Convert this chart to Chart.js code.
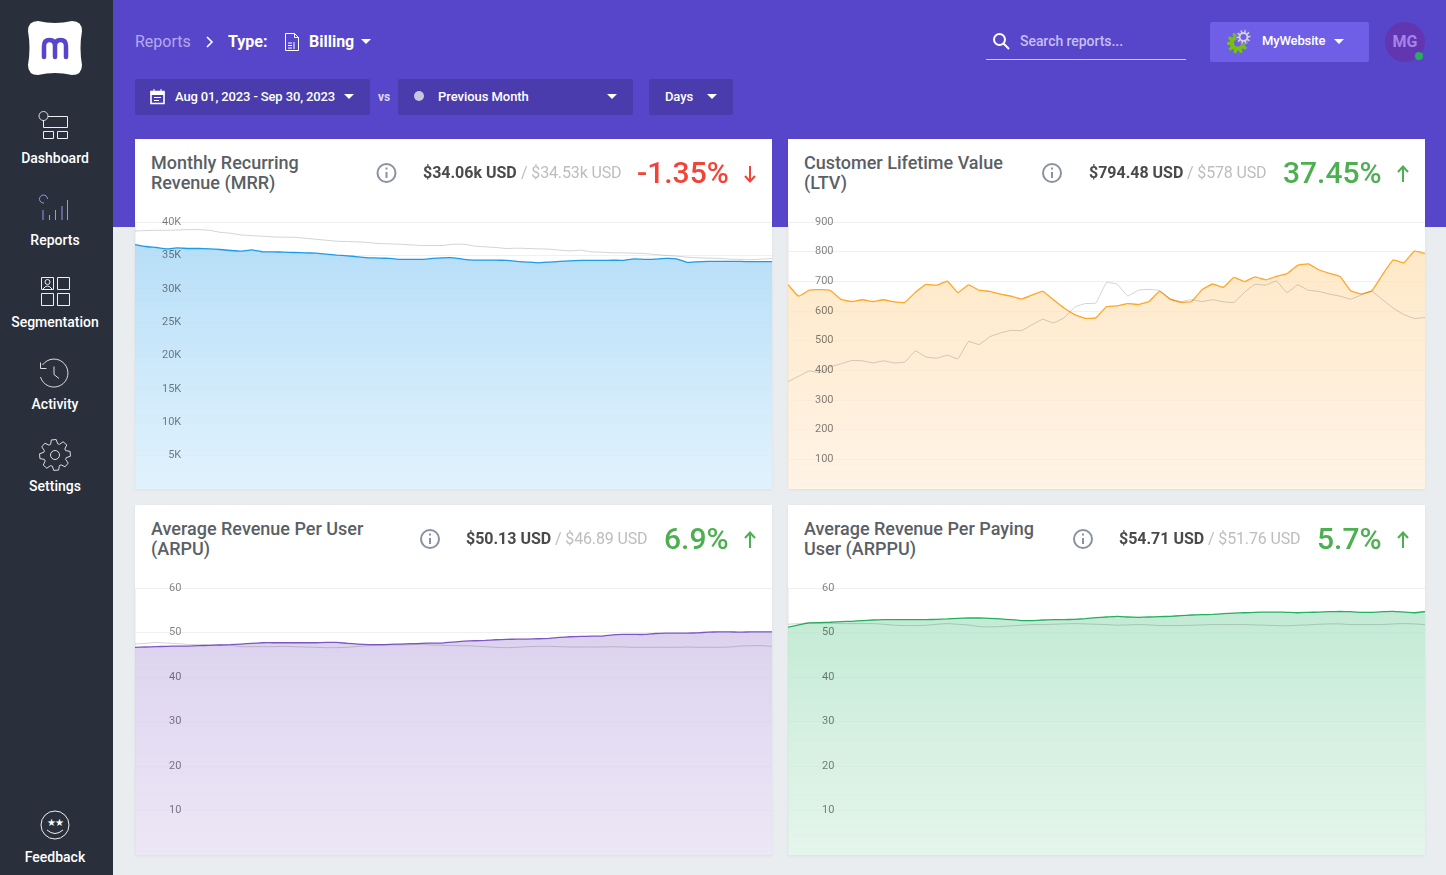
<!DOCTYPE html>
<html><head><meta charset="utf-8">
<script src="https://cdn.jsdelivr.net/npm/chart.js@4"></script>
<style>
*{box-sizing:border-box}
html,body{margin:0;padding:0;width:1446px;height:875px;overflow:hidden;background:#e9edf0;font-family:Roboto,sans-serif}
.abs,.t,canvas,svg{position:absolute}
.t{white-space:nowrap}
#side{position:absolute;left:0;top:0;width:113px;height:875px;background:#29303b}
#top{position:absolute;left:113px;top:0;width:1333px;height:227px;background:#5846ca}
.nav{position:absolute;left:0;width:110px;text-align:center;color:#fff;font-size:14px;font-weight:500;line-height:18px}
.btn{position:absolute;top:79px;height:36px;background:#4b3cad;border-radius:2px}
.lbl{color:#fff;font-size:13px;font-weight:500;line-height:18px;top:88px;letter-spacing:-.13px}
.caret{position:absolute;width:0;height:0;border-left:5px solid transparent;border-right:5px solid transparent;border-top:5px solid #fff}
.card{position:absolute;width:637px;height:350px;background:#fff;box-shadow:0 1px 3px rgba(0,0,0,.06)}
.title{color:#5a5f66;font-size:18px;font-weight:500;line-height:20px;left:151px}
.val{color:#4a4a4a;font-size:16px;font-weight:700;line-height:20px;letter-spacing:-.02px}
.prev{color:#bdbdbd;font-size:16px;line-height:20px;letter-spacing:-.14px}
.pct{font-size:30px;line-height:36px;font-weight:500}
</style></head><body>
<div id="top"></div>
<div id="side"></div>

<svg style="left:0;top:0" width="113" height="875" fill="none" stroke="#fff" stroke-width="1">
 <path d="M28 31q0-10 10-10q17 4 34 0q10 0 10 10q-3 17 0 34q0 10-10 10q-17-4-34 0q-10 0-10-10q3-17 0-34z" fill="#fff" stroke="none"/>
 <path d="M44 57V46q0-6 5.500-6t5.500 6v11M55 46q0-6 5.500-6t5.500 6v11" stroke="#5846ca" stroke-width="4.500" stroke-linecap="round"/>
 <circle cx="43.500" cy="116" r="4.500" stroke="#ddd"/>
 <path d="M48 116.500H67.500V127.500H43.500V120M43.500 131.500h10v7h-10zM57.500 131.500h10v7h-10z" stroke="#eee"/>
 <path d="M47.500 199a4 4 0 1 0-3.500 4" stroke="#9c95ee"/>
 <path d="M43 220v-10M49.500 220v-5M55.500 220v-10M62 220v-14M67.500 220v-20" stroke="#9c95ee"/>
 <path d="M41.500 277.500h12v12h-12zM57.500 277.500h12v12h-12zM41.500 293.500h12v12h-12zM57.500 293.500h12v12h-12z" stroke="#eee"/>
 <circle cx="47.500" cy="282" r="2.500" stroke="#eee"/><path d="M43 289q4.500-6 9 0" stroke="#eee"/>
 <path d="M42.500 365A14 14 0 1 1 40.500 377M40.500 362.500v6h6M54 366.500v8l5 4" stroke="#ddd"/>
 <path id="g1" stroke="#ddd"/>
 <circle cx="55" cy="455" r="4.500" stroke="#ddd"/>
 <circle cx="55" cy="825" r="14" stroke="#eee"/><path d="M47 830q8 7 16 0" stroke="#eee"/>
 <text x="46.500" y="826" font-size="10" fill="#fff" stroke="none">★</text><text x="54.500" y="826" font-size="10" fill="#fff" stroke="none">★</text>
</svg>
<div class="nav" style="top:149px">Dashboard</div>
<div class="nav" style="top:231px">Reports</div>
<div class="nav" style="top:313px">Segmentation</div>
<div class="nav" style="top:395px">Activity</div>
<div class="nav" style="top:477px">Settings</div>
<div class="nav" style="top:848px">Feedback</div>

<div class="t" style="left:135px;top:32px;font-size:16px;line-height:19px;color:#b3aaec">Reports</div>
<div class="t" style="left:228px;top:32px;font-size:16px;line-height:19px;color:#fff;font-weight:700">Type:</div>
<div class="t" style="left:309px;top:32px;font-size:16px;line-height:19px;color:#fff;font-weight:700">Billing</div>
<svg style="left:200px;top:30px" width="110" height="24" fill="none" stroke="#fff">
 <path d="M7 7l5 5-5 5" stroke-width="1.600"/>
 <path d="M85.500 3.500h9l4 4v13h-13zM94.500 3.500v4h4M88 13h4M88 15.500h4M88 18h4M94 12v7" stroke-width="1"/>
</svg>
<div class="caret" style="left:361px;top:39px"></div>

<div class="btn" style="left:135px;width:235px"></div>
<div class="btn" style="left:398px;width:235px"></div>
<div class="btn" style="left:649px;width:84px"></div>
<svg style="left:150px;top:88px" width="16" height="17" fill="none" stroke="#fff"><path d="M1 3.500h13v12H1z" stroke-width="1.600"/><path d="M1 4h13v2.500H1zM4 1v3M11 1v3" fill="#fff" stroke-width="1"/><path d="M4 9.500h7M4 12.500h5" stroke-width="1.200"/></svg>
<div class="t lbl" style="left:175px">Aug 01, 2023 - Sep 30, 2023</div>
<div class="caret" style="left:344px;top:94px"></div>
<div class="t" style="left:378px;top:88px;color:#ddd9f7;font-size:12px;font-weight:700;line-height:18px">vs</div>
<svg style="left:413px;top:90px" width="12" height="12"><circle cx="6" cy="6" r="5" fill="#c9c6de"/></svg>
<div class="t lbl" style="left:438px;letter-spacing:-.05px">Previous Month</div>
<div class="caret" style="left:607px;top:94px"></div>
<div class="t lbl" style="left:665px">Days</div>
<div class="caret" style="left:707px;top:94px"></div>

<svg style="left:992px;top:32px" width="20" height="20" fill="none" stroke="#fff" stroke-width="2"><circle cx="7.500" cy="7.500" r="5.500"/><path d="M11.500 11.500l5.500 5.500"/></svg>
<div class="t" style="left:1020px;top:32px;color:#c5bff0;font-size:14px;font-weight:500;line-height:18px;letter-spacing:-.05px">Search reports...</div>
<div class="abs" style="left:986px;top:59px;width:200px;height:1px;background:#cfcaf2"></div>
<div class="abs" style="left:1210px;top:22px;width:159px;height:40px;background:#6f5fe6;border-radius:2px"></div>
<svg style="left:1227px;top:29px" width="26" height="26" fill="none">
 <path id="g2" fill="#76c00e"/>
 <circle cx="10.500" cy="14" r="3.500" fill="#6f5fe6"/>
 <path id="g3" fill="#d4d4d4" stroke="#6f5fe6" stroke-width=".8"/>
 <circle cx="16.500" cy="8" r="3" fill="#6f5fe6"/>
</svg>
<div class="t lbl" style="left:1262px;top:32px">MyWebsite</div>
<div class="caret" style="left:1334px;top:39px"></div>
<svg style="left:1385px;top:22px" width="40" height="40"><circle cx="20" cy="20" r="20" fill="#6236b0"/><circle cx="34" cy="34" r="4" fill="#27ae60"/></svg>
<div class="t" style="left:1385px;top:32px;width:40px;text-align:center;color:#a583ea;font-size:16px;font-weight:700;line-height:19px">MG</div>

<div class="card" style="left:135px;top:139px"></div>
<div class="card" style="left:788px;top:139px"></div>
<div class="card" style="left:135px;top:505px"></div>
<div class="card" style="left:788px;top:505px"></div>

<canvas id="c1" class="abs" style="left:135px;top:214px"></canvas>
<canvas id="c2" class="abs" style="left:788px;top:214px"></canvas>
<canvas id="c3" class="abs" style="left:135px;top:580px"></canvas>
<canvas id="c4" class="abs" style="left:788px;top:580px"></canvas>

<div class="t title" style="top:153px">Monthly Recurring<br>Revenue (MRR)</div>
<div class="t title" style="top:153px;left:804px">Customer Lifetime Value<br>(LTV)</div>
<div class="t title" style="top:519px">Average Revenue Per User<br>(ARPU)</div>
<div class="t title" style="top:519px;left:804px">Average Revenue Per Paying<br>User (ARPPU)</div>

<svg style="left:0;top:0;width:1446px;height:875px;pointer-events:none" fill="none" stroke="#8a92a0" stroke-width="2">
 <circle cx="386.500" cy="173" r="9"/><path d="M386.500 172v6M386.500 167.500v2"/>
 <circle cx="1052" cy="173" r="9"/><path d="M1052 172v6M1052 167.500v2"/>
 <circle cx="430" cy="539" r="9"/><path d="M430 538v6M430 533.500v2"/>
 <circle cx="1083" cy="539" r="9"/><path d="M1083 538v6M1083 533.500v2"/>
 <path d="M750 166v15M745 176l5 5.500 5-5.500" stroke="#f44336"/>
 <path d="M1403 182v-15M1398 172l5-5.500 5 5.500" stroke="#4caf50"/>
 <path d="M750 548v-15M745 538l5-5.500 5 5.500" stroke="#4caf50"/>
 <path d="M1403 548v-15M1398 538l5-5.500 5 5.500" stroke="#4caf50"/>
</svg>

<div class="t val" style="left:423px;top:163px">$34.06k USD</div><div class="t prev" style="left:521px;top:163px">/ $34.53k USD</div>
<div class="t pct" style="left:637px;top:155px;color:#f44336">-1.35%</div>
<div class="t val" style="left:1089px;top:163px">$794.48 USD</div><div class="t prev" style="left:1187px;top:163px">/ $578 USD</div>
<div class="t pct" style="left:1283px;top:155px;color:#4caf50">37.45%</div>
<div class="t val" style="left:466px;top:529px">$50.13 USD</div><div class="t prev" style="left:555px;top:529px">/ $46.89 USD</div>
<div class="t pct" style="left:664px;top:521px;color:#4caf50">6.9%</div>
<div class="t val" style="left:1119px;top:529px">$54.71 USD</div><div class="t prev" style="left:1208px;top:529px">/ $51.76 USD</div>
<div class="t pct" style="left:1317px;top:521px;color:#4caf50">5.7%</div>

<script>
const days = ["Aug 01","Aug 02","Aug 03","Aug 04","Aug 05","Aug 06","Aug 07","Aug 08","Aug 09","Aug 10","Aug 11","Aug 12","Aug 13","Aug 14","Aug 15","Aug 16","Aug 17","Aug 18","Aug 19","Aug 20","Aug 21","Aug 22","Aug 23","Aug 24","Aug 25","Aug 26","Aug 27","Aug 28","Aug 29","Aug 30","Aug 31","Sep 01","Sep 02","Sep 03","Sep 04","Sep 05","Sep 06","Sep 07","Sep 08","Sep 09","Sep 10","Sep 11","Sep 12","Sep 13","Sep 14","Sep 15","Sep 16","Sep 17","Sep 18","Sep 19","Sep 20","Sep 21","Sep 22","Sep 23","Sep 24","Sep 25","Sep 26","Sep 27","Sep 28","Sep 29","Sep 30"];
const mrr = [36620,36330,36180,35980,36130,36030,36030,35980,35880,35730,35630,35830,35530,35530,35480,35430,35380,35330,35180,35040,34940,34790,34640,34590,34540,34390,34390,34390,34540,34640,34640,34390,34290,34290,34290,34240,34090,33990,33890,33990,34090,34190,34240,34240,34240,34290,34240,34490,34390,34440,34540,34490,33940,34040,34090,34090,34090,34090,34060,34060,34060];
const mrrPrev = [38660,38710,38760,38760,38810,38860,38860,38760,38460,38310,38060,37960,37870,37770,37720,37720,37570,37420,37270,37120,37070,37020,36920,36770,36720,36670,36570,36480,36480,36480,36670,36670,36380,36280,36180,36030,36080,36030,35980,35930,35780,35680,35780,35530,35480,35380,35380,35330,35280,35130,34990,34890,34740,34640,34590,34540,34440,34390,34340,34440,34530];
const ltv = [689,650,670,672,669,639,632,638,632,638,631,629,663,690,687,701,662,688,670,666,657,650,640,654,666,638,610,588,575,577,615,617,625,622,632,666,640,629,632,672,691,680,713,699,715,705,717,726,754,759,739,727,716,668,658,668,723,772,762,802,794];
const ltvPrev = [362,380,398,392,412,422,433,432,425,432,425,428,465,445,441,451,439,497,487,513,526,535,534,554,572,560,577,613,625,627,696,690,651,670,673,669,640,632,638,632,638,631,629,663,690,687,701,662,688,670,666,657,650,640,654,666,638,610,588,575,578];
const arpu = [46.67,46.74,46.81,46.89,46.96,46.96,47.04,47.11,47.19,47.26,47.41,47.56,47.70,47.70,47.70,47.70,47.70,47.70,47.78,47.78,47.56,47.41,47.26,47.26,47.33,47.41,47.48,47.56,47.63,47.63,47.85,48.07,48.15,48.22,48.37,48.44,48.52,48.52,48.59,48.67,48.89,49.04,49.11,49.19,49.19,49.48,49.56,49.56,49.56,49.78,49.85,49.85,49.85,49.93,50.07,50.15,50.15,50.07,50.15,50.15,50.13];
const arpuPrev = [47.41,47.56,47.78,47.63,47.48,47.33,47.26,47.19,47.19,47.11,46.81,46.81,46.81,46.81,46.89,46.81,46.74,46.67,46.59,46.59,46.67,46.89,47.04,47.11,47.19,47.19,47.26,47.33,47.19,47.11,47.04,47.04,46.96,46.81,46.67,46.59,46.67,46.81,46.89,46.89,46.81,46.74,46.74,46.74,46.74,46.81,46.74,46.67,46.67,46.67,46.67,46.67,46.74,46.67,46.67,46.67,46.74,46.96,47.04,47.04,46.89];
const arppu = [51.19,51.70,52.15,52.22,52.30,52.44,52.52,52.67,52.81,52.89,52.89,52.89,52.89,52.89,52.96,53.04,53.19,53.26,53.26,53.19,53.04,52.89,52.67,52.67,52.81,52.89,52.89,52.96,53.11,53.33,53.48,53.63,53.48,53.41,53.48,53.56,53.63,53.78,53.93,54.00,54.07,54.22,54.37,54.44,54.52,54.59,54.59,54.52,54.44,54.52,54.59,54.67,54.74,54.67,54.52,54.52,54.67,54.74,54.59,54.44,54.71];
const arppuPrev = [51.85,52.00,52.15,52.07,52.07,52.00,52.00,52.00,52.00,51.85,51.63,51.56,51.56,51.63,51.85,52.00,51.85,51.70,51.33,51.26,51.33,51.48,51.63,51.78,51.78,51.85,51.93,52.00,51.93,51.85,51.78,51.63,51.70,51.78,51.70,51.56,51.56,51.56,51.63,51.70,51.78,51.78,51.78,51.78,51.70,51.63,51.56,51.48,51.63,51.70,51.85,51.93,51.93,51.78,51.78,51.78,51.78,51.93,52.00,51.93,51.76];
const mrrTicks = [5000,10000,15000,20000,25000,30000,35000,40000];
const ltvTicks = [100,200,300,400,500,600,700,800,900];
const arpuTicks = [10,20,30,40,50,60];

function gearPath(cx,cy,ro,ri,n){
  let d='';
  for(let k=0;k<n;k++){
    const s=2*Math.PI/n, a=k*s;
    [[ri,-.5],[ro,-.3],[ro,.1],[ri,.3]].forEach(([r,f],j)=>{
      const t=a+f*s;
      d+=(k===0&&j===0?'M':'L')+(cx+r*Math.cos(t)).toFixed(2)+' '+(cy+r*Math.sin(t)).toFixed(2);
    });
  }
  return d+'Z';
}
document.getElementById('g1').setAttribute('d',gearPath(55,455,15.5,11.5,8));
document.getElementById('g2').setAttribute('d',gearPath(10.5,14,10.5,7.5,10));
document.getElementById('g3').setAttribute('d',gearPath(16.5,8,7.5,5,10));

function makeChart(id, cur, prev, tickVals, maxV, fmt, line, topFill, botFill, pad){
  const cv = document.getElementById(id);
  cv.width = 637; cv.height = 275;
  new Chart(cv, {
    type:'line',
    data:{labels:days, datasets:[
      {data:prev, borderColor:'rgba(60,60,60,.22)', borderWidth:1, pointRadius:0, tension:.1, fill:false, order:1},
      {data:cur, borderColor:line, borderWidth:1.3, pointRadius:0, tension:.1, fill:'origin', order:2,
       backgroundColor(ctx){
         const a = ctx.chart.chartArea;
         if(!a) return topFill;
         const g = ctx.chart.ctx.createLinearGradient(0,a.top,0,a.bottom);
         g.addColorStop(0,topFill); g.addColorStop(1,botFill);
         return g;
       }}
    ]},
    options:{
      responsive:false, animation:false, events:[],
      layout:{padding:{top:8,left:0,right:0,bottom:0}},
      plugins:{legend:{display:false},tooltip:{enabled:false}},
      scales:{
        x:{display:false},
        y:{min:0,max:maxV,
           afterBuildTicks(ax){ ax.ticks = [0].concat(tickVals).map(v=>({value:v})); },
           afterFit(ax){ ax.width=0; ax.paddingTop=0; ax.paddingBottom=0; ax.paddingLeft=0; ax.paddingRight=0; },
           grid:{color:'rgba(0,0,0,.06)',drawTicks:false},
           border:{color:'rgba(0,0,0,.05)'},
           ticks:{z:1,mirror:true,crossAlign:'far',padding:pad,color:'rgba(0,0,0,.5)',font:{family:'Roboto',size:11},
                  callback(v){return v===0?'':fmt(v);}}
        }
      }
    }
  });
}
const plain = v=>String(v);
makeChart('c1',mrr,mrrPrev,mrrTicks,40000,v=>(v/1000)+'K','#1c9bea','rgba(170,216,247,.9)','rgba(214,238,252,.75)',27);
makeChart('c2',ltv,ltvPrev,ltvTicks,900,plain,'#ffa726','rgba(255,224,178,.78)','rgba(255,236,214,.62)',27);
makeChart('c3',arpu,arpuPrev,arpuTicks,60,plain,'#7e57c2','rgba(209,196,233,.85)','rgba(226,218,242,.65)',34);
makeChart('c4',arppu,arppuPrev,arpuTicks,60,plain,'#27ae60','rgba(170,226,195,.75)','rgba(215,240,225,.65)',34);
</script>
</body></html>
